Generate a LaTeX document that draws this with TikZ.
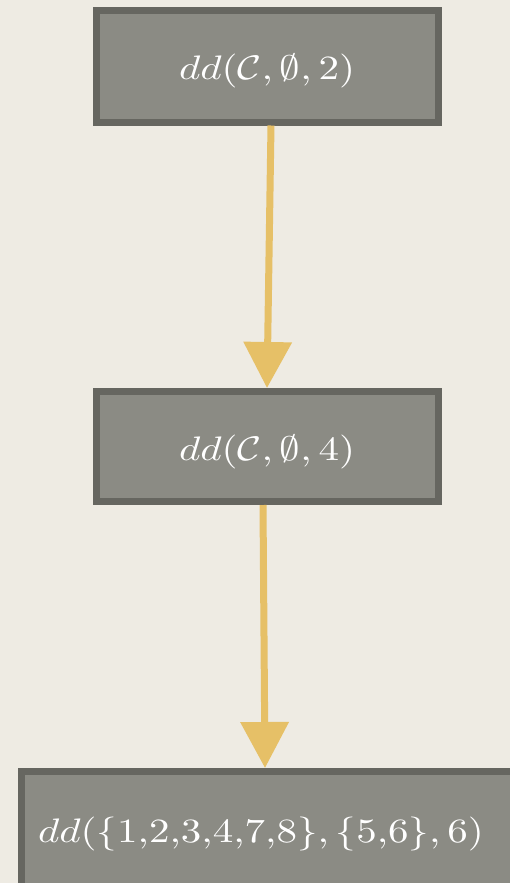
\documentclass[tikz,border=0pt]{standalone}
\usepackage{graphicx}
\usepackage{amssymb}
\usetikzlibrary{arrows.meta}
\definecolor{bgc}{HTML}{EEEBE3}
\definecolor{boxfill}{HTML}{8B8B84}
\definecolor{boxline}{HTML}{666660}
\definecolor{arrowc}{HTML}{E6C067}
\newcommand{\bigtxt}[1]{\raisebox{-5pt}[\height][\depth]{\scalebox{4.1}[3.4]{$#1$}}}
\begin{document}
\begin{tikzpicture}[x=1pt,y=-1pt,
  ddbox/.style={draw=boxline, fill=boxfill, line width=7pt, text=white,
    inner sep=0pt},
  flow/.style={draw=arrowc, line width=7pt,
    -{Triangle[width=47pt,length=46pt]}}]
\fill[bgc] (0,0) rectangle (510,883);
\useasboundingbox (0,0) rectangle (510,883);
\node[ddbox, minimum width=342pt, minimum height=111pt] (b1) at (267,66.5)
  {\bigtxt{dd(\mathcal{C},\emptyset,2)}};
\node[ddbox, minimum width=342pt, minimum height=110pt] (b2) at (267,446.5)
  {\bigtxt{dd(\mathcal{C},\emptyset,4)}};
\node[ddbox, minimum height=115pt, text width=462pt, inner xsep=16.5pt,
  align=left] (b3) at (269,829)
  {\bigtxt{dd(\{1{,}2{,}3{,}4{,}7{,}8\},\{5{,}6\},6)}};
\draw[flow] ([xshift=4pt]b1.south) -- (b2.north);
\draw[flow] ([xshift=-4pt]b2.south) -- ([xshift=-4pt]b3.north);
\end{tikzpicture}
\end{document}
